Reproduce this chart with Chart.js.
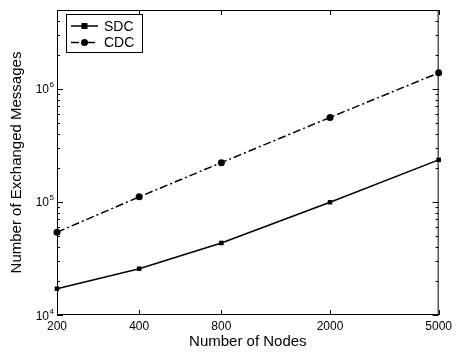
<!DOCTYPE html>
<html>
<head>
<meta charset="utf-8">
<script src="https://cdn.jsdelivr.net/npm/chart.js@4.4.1/dist/chart.umd.min.js"></script>
<style>
  html, body { margin: 0; padding: 0; background: #fff; }
  #wrap { width: 456px; height: 352px; }
</style>
</head>
<body>
<div id="wrap"><canvas id="msgChart"></canvas></div>
<script>
/* message counts vs. network size */
var nodeCounts  = [200, 400, 800, 2000, 5000];
var sdcMessages = [17100, 25700, 43400, 99500, 236000];
var cdcMessages = [54000, 111000, 223000, 560000, 1390000];
var yDecades    = [1e4, 1e5, 1e6];
var yMin = 1e4, yMax = 5e6;

var FONT = "'Liberation Sans', Arial, Helvetica, sans-serif";

function toPoints(ys) {
  return nodeCounts.map(function(x, i) { return { x: x, y: ys[i] }; });
}

/* ----------------------------------------------------------
   Frame, inward ticks, 10^n labels and legend
   ---------------------------------------------------------- */
var framePlugin = {
  id: 'frame',
  afterDraw: function(chart) {
    var ctx = chart.ctx, a = chart.chartArea;
    var xs = chart.scales.x, ys = chart.scales.y;
    ctx.save();
    ctx.strokeStyle = '#000';
    ctx.lineWidth = 1;
    ctx.strokeRect(a.left + 0.5, a.top + 0.5, a.right - a.left - 1, a.bottom - a.top - 1);

    ctx.beginPath();
    nodeCounts.forEach(function(v) {
      var px = Math.round(xs.getPixelForValue(v)) + 0.5;
      ctx.moveTo(px, a.bottom); ctx.lineTo(px, a.bottom - 5);
      ctx.moveTo(px, a.top); ctx.lineTo(px, a.top + 5);
    });
    yDecades.forEach(function(d) {
      for (var k = 1; k <= 9; k++) {
        var v = d * k;
        if (v < yMin || v > yMax) continue;
        var len = k === 1 ? 6 : 3;
        var py = Math.round(ys.getPixelForValue(v)) + 0.5;
        ctx.moveTo(a.left, py); ctx.lineTo(a.left + len, py);
        ctx.moveTo(a.right, py); ctx.lineTo(a.right - len, py);
      }
    });
    ctx.stroke();

    // decade labels as 10 with a raised exponent
    ctx.fillStyle = '#000';
    yDecades.forEach(function(d) {
      var py = ys.getPixelForValue(d);
      ctx.font = '12px ' + FONT;
      ctx.textAlign = 'right';
      ctx.textBaseline = 'alphabetic';
      ctx.fillText('10', 49, py + 4.5);
      ctx.font = '8px ' + FONT;
      ctx.textAlign = 'left';
      ctx.fillText(String(Math.round(Math.log10(d))), 49.5, py - 1.5);
    });

    // legend box
    var bx = 66, by = 14, bw = 76, bh = 38;
    ctx.fillStyle = '#fff';
    ctx.fillRect(bx, by, bw, bh);
    ctx.strokeRect(bx + 0.5, by + 0.5, bw, bh);
    chart.data.datasets.forEach(function(ds, i) {
      var ly = by + 12 + i * 16.5;
      ctx.strokeStyle = '#000';
      ctx.lineWidth = 1.5;
      ctx.setLineDash(ds.borderDash || []);
      ctx.beginPath();
      ctx.moveTo(bx + 5, ly); ctx.lineTo(bx + 32, ly);
      ctx.stroke();
      ctx.setLineDash([]);
      ctx.fillStyle = '#000';
      var mx = bx + 18.5;
      if (ds.pointStyle === 'rect') {
        ctx.fillRect(mx - 3, ly - 3, 6, 6);
      } else {
        ctx.beginPath(); ctx.arc(mx, ly, 3.5, 0, Math.PI * 2); ctx.fill();
      }
      ctx.font = '14px ' + FONT;
      ctx.textAlign = 'left';
      ctx.textBaseline = 'middle';
      ctx.fillText(ds.label, bx + 38, ly + 1);
    });
    ctx.restore();
  }
};

new Chart(document.getElementById('msgChart'), {
  type: 'line',
  data: {
    datasets: [
      { label: 'SDC', data: toPoints(sdcMessages), borderColor: '#000', backgroundColor: '#000',
        borderWidth: 1.5, pointStyle: 'rect', pointRadius: 3.2, pointBorderWidth: 0, clip: false },
      { label: 'CDC', data: toPoints(cdcMessages), borderColor: '#000', backgroundColor: '#000',
        borderWidth: 1.5, borderDash: [8, 3, 2, 3], pointStyle: 'circle', pointRadius: 3.5,
        pointBorderWidth: 0, clip: false }
    ]
  },
  options: {
    responsive: true, maintainAspectRatio: false, animation: false,
    layout: { padding: { top: 10, right: 13, left: 0, bottom: 0 } },
    plugins: { legend: { display: false }, tooltip: { enabled: false } },
    scales: {
      x: {
        type: 'logarithmic', min: 200, max: 5000,
        afterBuildTicks: function(s) { s.ticks = nodeCounts.map(function(v) { return { value: v }; }); },
        afterFit: function(s) { s.height = 37; },
        grid: { display: false, drawTicks: false },
        border: { display: false },
        ticks: { color: '#000', font: { family: FONT, size: 12 }, padding: 4, maxRotation: 0, autoSkip: false,
                 callback: function(v) { return String(v); } },
        title: { display: true, text: 'Number of Nodes', color: '#000', font: { family: FONT, size: 15 },
                 padding: { top: 0, bottom: 1 } }
      },
      y: {
        type: 'logarithmic', min: yMin, max: yMax,
        afterFit: function(s) { s.width = 57; },
        grid: { display: false, drawTicks: false },
        border: { display: false },
        ticks: { display: false },
        title: { display: true, text: 'Number of Exchanged Messages', color: '#000',
                 font: { family: FONT, size: 15 }, padding: { top: 8, bottom: 0 } }
      }
    }
  },
  plugins: [framePlugin]
});
</script>
</body>
</html>
